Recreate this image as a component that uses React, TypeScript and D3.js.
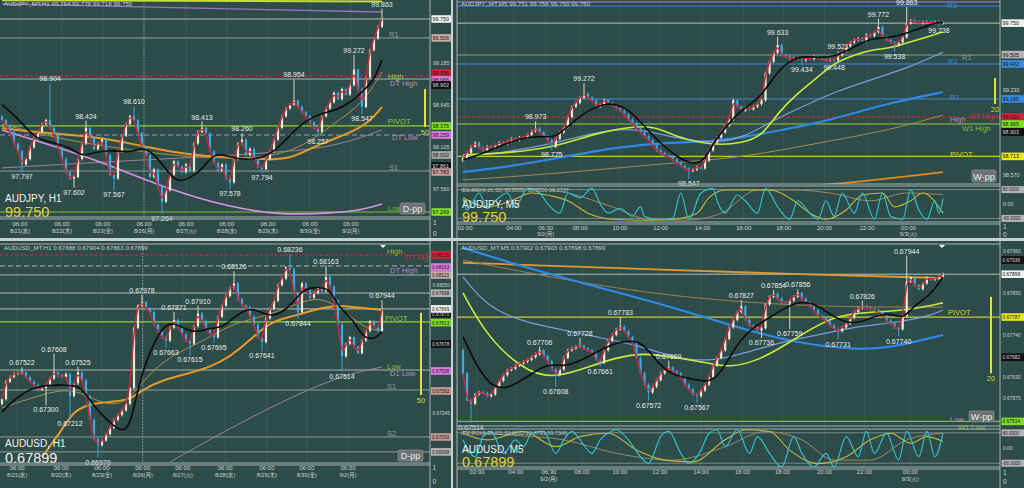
import React from 'react';
import * as d3 from 'd3';

type Pt = [number, number];

// ---------- AUDJPY H1 (top left) ----------
const tlCloses = [
  98.45, 98.38, 98.30, 98.15, 98.05, 97.88, 97.95, 98.10, 98.22, 98.30,
  98.40, 98.45, 98.35, 98.28, 98.10, 97.95, 97.78, 97.70, 97.72, 97.95,
  98.15, 98.35, 98.22, 98.08, 98.15, 98.20, 98.00, 97.75, 97.70, 98.05,
  98.25, 98.40, 98.50, 98.45, 98.28, 98.10, 98.00, 97.72, 97.82, 97.60,
  97.40, 97.55, 97.75, 97.92, 97.85, 97.78, 97.88, 97.80, 98.15, 98.30,
  98.35, 98.28, 98.05, 97.90, 97.80, 97.88, 97.70, 97.65, 97.95, 98.15,
  98.20, 98.00, 98.08, 97.95, 97.85, 97.82, 97.95, 98.05, 98.20, 98.35,
  98.50, 98.60, 98.65, 98.70, 98.62, 98.55, 98.50, 98.42, 98.35, 98.30,
  98.50, 98.60, 98.68, 98.80, 98.72, 98.85, 98.78, 98.90, 99.10, 98.85,
  98.62, 99.00, 99.35, 99.50, 99.65, 99.75,
];
const tlHighs: Pt[] = [[12, 98.904], [21, 98.424], [33, 98.610], [50, 98.413], [60, 98.260], [73, 98.954], [88, 99.272], [95, 99.863]];
const tlLows: Pt[] = [[5, 97.797], [18, 97.602], [28, 97.567], [40, 97.264], [57, 97.578], [65, 97.794], [79, 98.257], [90, 98.547]];
const tlBlack: Pt[] = [[0, 98.645], [4, 98.478], [8, 98.220], [12, 98.169], [17, 98.105], [20, 97.976], [23, 98.040], [28, 98.066], [32, 98.028], [35, 98.105], [38, 98.028], [42, 97.745], [44, 97.655], [47, 97.706], [50, 97.809], [53, 98.040], [57, 97.976], [61, 97.938], [65, 97.963], [68, 98.040], [72, 98.259], [76, 98.452], [80, 98.542], [84, 98.580], [88, 98.709], [91, 98.863], [93, 98.966], [95, 99.223]];
const tlOrange: Pt[] = [[0, 98.349], [8, 98.297], [25, 98.233], [37, 98.092], [47, 98.002], [58, 97.963], [69, 97.938], [73, 97.976], [80, 98.156], [87, 98.284], [92, 98.426], [95, 98.619]];
const tlOlive: Pt[] = [[0, 98.40], [15, 98.20], [30, 98.08], [45, 97.98], [60, 97.95], [70, 98.00], [78, 98.20], [84, 98.45], [90, 98.65], [95, 99.07]];
const tlPink: Pt[] = [[0, 98.323], [12, 98.130], [25, 97.912], [42, 97.552], [57, 97.333], [69, 97.231], [83, 97.256], [90, 97.295], [95, 97.372]];
const tlMauve: Pt[] = [[0, 97.835], [25, 97.912], [50, 97.976], [70, 98.040], [83, 98.105], [95, 98.323]];
const tlPurple: Pt[] = [[0, 99.943], [95, 99.840]];
const tlLime: Pt[] = [[0, 99.990], [95, 99.975]];
const tlLevelPrices = [99.750, 99.506, 99.017, 98.979, 98.375, 98.259, 97.796, 97.269];
const tlTextPrices = [99.557, 99.017, 98.927, 98.426, 98.233, 97.835, 97.308];
const tlTextNames = ['R1', 'High', 'DT High', 'PIVOT', 'DT Low', 'S1', 'Low'];
const tlTicks = [99.185, 98.645, 98.105, 97.560];
const tlBoxPrices = [99.750, 99.506, 99.056, 98.966, 98.902, 98.375, 98.259, 98.002, 97.861, 97.783, 97.269];
const tlTimeIdx = [4.5, 15, 25.2, 35.5, 46, 56.2, 66.5, 77, 87.2];
const tlBar: Pt = [98.850, 98.362];

// ---------- AUDJPY M5 (top right) ----------
const trCloses = [
  98.70, 98.74, 98.79, 98.82, 98.78, 98.76, 98.79, 98.78, 98.80, 98.82,
  98.81, 98.83, 98.85, 98.84, 98.86, 98.86, 98.88, 98.91, 98.93, 98.90,
  98.87, 98.84, 98.79, 98.85, 98.90, 98.94, 99.02, 99.10, 99.13, 99.17,
  99.20, 99.17, 99.15, 99.10, 99.12, 99.15, 99.13, 99.11, 99.09, 99.07,
  99.04, 99.00, 98.97, 98.93, 98.90, 98.87, 98.84, 98.80, 98.76, 98.74,
  98.72, 98.71, 98.69, 98.66, 98.64, 98.62, 98.60, 98.61, 98.63, 98.62,
  98.68, 98.76, 98.82, 98.86, 98.90, 98.95, 99.00, 99.15, 99.10, 99.07,
  99.09, 99.08, 99.10, 99.12, 99.15, 99.36, 99.45, 99.52, 99.58, 99.50,
  99.49, 99.47, 99.48, 99.47, 99.46, 99.48, 99.47, 99.49, 99.48, 99.47,
  99.46, 99.47, 99.46, 99.50, 99.53, 99.57, 99.60, 99.62, 99.63, 99.61,
  99.66, 99.65, 99.68, 99.72, 99.64, 99.62, 99.60, 99.58, 99.60, 99.64,
  99.75, 99.77, 99.76, 99.75, 99.76, 99.76, 99.75, 99.76, 99.75, 99.75,
];
const trHighs: Pt[] = [[18, 98.973], [30, 99.272], [78, 99.633], [93, 99.521], [103, 99.772], [110, 99.863]];
const trLows: Pt[] = [[22, 98.775], [56, 98.547], [84, 99.434], [92, 99.448], [107, 99.538], [118, 99.738]];
const trBlack: Pt[] = [[0, 98.685], [6, 98.747], [15, 98.872], [21, 98.864], [23, 98.864], [27, 98.973], [31, 99.074], [36, 99.136], [40, 99.097], [43, 99.019], [48, 98.841], [53, 98.708], [57, 98.646], [60, 98.685], [62, 98.817], [66, 98.973], [69, 99.074], [74, 99.175], [78, 99.385], [83, 99.502], [88, 99.479], [92, 99.487], [97, 99.564], [101, 99.634], [106, 99.634], [110, 99.673], [115, 99.728], [118, 99.759], [119, 99.751]];
const trLime: Pt[] = [[0, 98.724], [11, 98.739], [23, 98.786], [33, 98.895], [43, 98.950], [48, 98.942], [53, 98.864], [59, 98.817], [64, 98.802], [69, 98.817], [74, 98.864], [78, 99.051], [83, 99.206], [88, 99.331], [92, 99.440], [97, 99.502], [101, 99.541], [106, 99.557], [110, 99.596], [115, 99.642], [119, 99.681]];
const trSky: Pt[] = [[0, 98.708], [11, 98.747], [23, 98.817], [32, 98.895], [41, 98.934], [48, 98.895], [55, 98.841], [63, 98.817], [70, 98.864], [77, 98.996], [84, 99.097], [92, 99.214], [101, 99.307], [111, 99.409], [119, 99.525]];
const trBlue: Pt[] = [[0, 98.592], [11, 98.631], [25, 98.708], [38, 98.786], [52, 98.825], [61, 98.825], [70, 98.864], [79, 98.918], [88, 98.973], [97, 99.051], [106, 99.129], [119, 99.214]];
const trTan: Pt[] = [[0, 98.529], [25, 98.584], [52, 98.662], [70, 98.708], [88, 98.817], [106, 98.918], [119, 99.035]];
const trOrange: Pt[] = [[88, 98.49], [97, 98.51], [119, 98.59]];
const trCyan: Pt[] = [[0, 30], [1, -33], [4, 61], [6, -25], [8, 18], [11, 61], [13, -16], [16, 87], [19, 61], [21, 1], [24, -51], [26, 61], [29, 35], [32, 87], [34, 1], [36, -51], [39, -25], [42, -68], [44, -16], [45, -68], [48, -85], [52, -80], [54, 61], [56, -85], [59, 61], [62, 87], [63, 18], [65, -51], [68, 50], [70, 18], [73, -51], [75, 87], [78, -16], [81, -85], [83, 18], [86, -51], [88, -85], [90, 18], [92, -68], [94, 61], [97, -51], [99, 61], [102, -85], [104, 61], [106, -68], [109, -85], [111, 80], [113, -33], [115, -85], [117, 18], [118, -51], [119, 30]];
const trYellow: Pt[] = [[0, 35], [6, -16], [12, 18], [17, 61], [22, 44], [26, 18], [31, -51], [37, -85], [46, -90], [52, -85], [58, -51], [61, 35], [65, 78], [71, 78], [76, 78], [82, 18], [86, -51], [90, -85], [95, -33], [99, 50], [104, 61], [107, -16], [111, 18], [114, 61], [119, -51]];
const trTanOsc: Pt[] = [[0, 70], [16, 87], [26, 61], [37, -16], [46, -85], [55, -90], [64, -51], [73, 78], [82, 78], [91, 61], [101, 18], [110, 61], [119, 52]];
const trLevelPrices = [99.915, 99.883, 99.750, 99.502, 99.432, 99.160, 99.020, 98.965, 98.713];
const trTextPrices = [99.890, 99.480, 99.455, 99.170, 99.000, 99.020, 98.930, 98.730];
const trTextNames = ['R3', 'R1', 'R2', 'R1', 'High', 'DT High', 'W1 High', 'PIVOT'];
const trTicks = [99.720, 99.555, 99.395, 99.230, 99.065, 98.900, 98.735, 98.570];
const trBoxPrices = [99.750, 99.505, 99.432, 99.160, 99.020, 98.965, 98.903, 98.713];
const trTimeIdx = [0.5, 12.6, 20.5, 29, 38.9, 49, 59.4, 69.6, 79.5, 89.6, 100.2, 110.4];
const trBar: Pt = [99.323, 99.121];

// ---------- AUDUSD H1 (bottom left) ----------
const blCloses = [
  0.67330, 0.67440, 0.67470, 0.67490, 0.67495, 0.67500, 0.67470, 0.67440, 0.67420, 0.67390,
  0.67400, 0.67420, 0.67460, 0.67500, 0.67480, 0.67470, 0.67490, 0.67350, 0.67430, 0.67500,
  0.67450, 0.67350, 0.67200, 0.67080, 0.67040, 0.67070, 0.67110, 0.67150, 0.67200, 0.67230,
  0.67260, 0.67300, 0.67400, 0.67780, 0.67920, 0.67940, 0.67900, 0.67880, 0.67800, 0.67760,
  0.67720, 0.67700, 0.67780, 0.67830, 0.67780, 0.67740, 0.67700, 0.67680, 0.67790, 0.67870,
  0.67820, 0.67770, 0.67740, 0.67720, 0.67850, 0.67920, 0.67980, 0.68030, 0.68060, 0.67960,
  0.67920, 0.67910, 0.67850, 0.67800, 0.67720, 0.67690, 0.67840, 0.67900, 0.67950, 0.68050,
  0.68090, 0.68160, 0.68150, 0.68000, 0.67880, 0.68060, 0.68020, 0.67970, 0.68000, 0.68030,
  0.68010, 0.68100, 0.68040, 0.67950, 0.67800, 0.67600, 0.67680, 0.67720, 0.67660, 0.67620,
  0.67700, 0.67760, 0.67820, 0.67790, 0.67760, 0.67899,
];
const blHighs: Pt[] = [[5, 0.67522], [13, 0.67608], [19, 0.67525], [35, 0.67978], [43, 0.67871], [49, 0.67910], [58, 0.68126], [72, 0.68236], [81, 0.68163], [95, 0.67944]];
const blLows: Pt[] = [[11, 0.67300], [17, 0.67212], [24, 0.66970], [41, 0.67663], [47, 0.67615], [53, 0.67695], [65, 0.67641], [74, 0.67844], [85, 0.67514]];
const blBlack: Pt[] = [[0, 0.67250], [3, 0.67326], [8, 0.67420], [17, 0.67420], [20, 0.67407], [23, 0.67281], [27, 0.67180], [30, 0.67124], [32, 0.67155], [34, 0.67407], [37, 0.67640], [41, 0.67829], [45, 0.67785], [48, 0.67747], [52, 0.67779], [55, 0.67779], [58, 0.67848], [62, 0.67911], [65, 0.67873], [68, 0.67848], [72, 0.67911], [75, 0.68018], [78, 0.68037], [82, 0.68031], [84, 0.67911], [88, 0.67829], [90, 0.67722], [93, 0.67703], [95, 0.67754]];
const blOrange: Pt[] = [[10, 0.66966], [15, 0.67136], [18, 0.67263], [23, 0.67306], [27, 0.67313], [32, 0.67325], [35, 0.67388], [40, 0.67451], [47, 0.67495], [52, 0.67533], [57, 0.67596], [62, 0.67703], [67, 0.67817], [72, 0.67848], [78, 0.67892], [83, 0.67924], [88, 0.67911], [95, 0.67892]];
const blOlive: Pt[] = [[0, 0.67275], [8, 0.67344], [17, 0.67407], [23, 0.67325], [29, 0.67281], [33, 0.67369], [37, 0.67495], [42, 0.67596], [47, 0.67659], [52, 0.67722], [58, 0.67810], [65, 0.67848], [72, 0.67911], [78, 0.67974], [83, 0.67936], [88, 0.67829], [92, 0.67766], [95, 0.67766]];
const blMauve: Pt[] = [[42, 0.66935], [62, 0.67218], [83, 0.67470], [95, 0.67533]];
const blLevelPrices = [0.68239, 0.68170, 0.68113, 0.67999, 0.67899, 0.67817, 0.67514, 0.67388, 0.67092, 0.66998];
const blTextPrices = [0.68258, 0.68226, 0.68144, 0.67836, 0.67533, 0.67489, 0.67407, 0.67111];
const blTextNames = ['High', 'DT High', 'DT High', 'PIVOT', 'Low', 'D1 Low', 'S1', 'S2'];
const blTicks = [0.68180, 0.68050, 0.67920, 0.67790, 0.67660, 0.67530, 0.67400, 0.67245, 0.67115, 0.66985];
const blBoxPrices = [0.68239, 0.68163, 0.68113, 0.67998, 0.67870, 0.67899, 0.67813, 0.67678, 0.67508, 0.67382, 0.67092, 0.66998];
const blTimeIdx = [3.8, 14.8, 25, 35.2, 45.2, 55.8, 66.2, 76.2, 86.5];
const blBar: Pt = [0.67874, 0.67357];

// ---------- AUDUSD M5 (bottom right) ----------
const brCloses = [
  0.67640, 0.67570, 0.67560, 0.67585, 0.67590, 0.67588, 0.67580, 0.67585, 0.67605, 0.67620,
  0.67635, 0.67648, 0.67652, 0.67660, 0.67665, 0.67670, 0.67675, 0.67682, 0.67690, 0.67700,
  0.67685, 0.67672, 0.67650, 0.67635, 0.67650, 0.67680, 0.67700, 0.67705, 0.67710, 0.67712,
  0.67705, 0.67700, 0.67695, 0.67675, 0.67668, 0.67700, 0.67725, 0.67740, 0.67755, 0.67762,
  0.67750, 0.67735, 0.67720, 0.67680, 0.67640, 0.67610, 0.67590, 0.67605, 0.67622, 0.67640,
  0.67650, 0.67655, 0.67645, 0.67640, 0.67630, 0.67610, 0.67598, 0.67585, 0.67580, 0.67595,
  0.67610, 0.67630, 0.67660, 0.67680, 0.67700, 0.67730, 0.67760, 0.67780, 0.67800, 0.67815,
  0.67780, 0.67765, 0.67760, 0.67752, 0.67758, 0.67820, 0.67840, 0.67848, 0.67835, 0.67825,
  0.67822, 0.67830, 0.67840, 0.67850, 0.67835, 0.67825, 0.67815, 0.67805, 0.67790, 0.67785,
  0.67775, 0.67765, 0.67755, 0.67750, 0.67760, 0.67770, 0.67785, 0.67800, 0.67810, 0.67815,
  0.67810, 0.67808, 0.67805, 0.67800, 0.67790, 0.67778, 0.67770, 0.67760, 0.67755, 0.67790,
  0.67880, 0.67890, 0.67870, 0.67860, 0.67875, 0.67890, 0.67885, 0.67888, 0.67892, 0.67899,
];
const brHighs: Pt[] = [[19, 0.67706], [29, 0.67728], [39, 0.67783], [51, 0.67669], [69, 0.67827], [77, 0.67854], [83, 0.67856], [99, 0.67826], [110, 0.67944]];
const brLows: Pt[] = [[2, 0.67514], [23, 0.67608], [34, 0.67661], [46, 0.67572], [58, 0.67567], [74, 0.67736], [81, 0.67759], [93, 0.67731], [108, 0.67740]];
const brBlack: Pt[] = [[0, 0.67735], [7, 0.67578], [15, 0.67622], [21, 0.67669], [25, 0.67654], [31, 0.67682], [36, 0.67714], [44, 0.67735], [48, 0.67667], [52, 0.67635], [56, 0.67627], [61, 0.67614], [64, 0.67640], [68, 0.67719], [72, 0.67761], [77, 0.67792], [83, 0.67832], [88, 0.67819], [92, 0.67785], [97, 0.67766], [101, 0.67785], [106, 0.67800], [109, 0.67779], [112, 0.67819], [116, 0.67845], [119, 0.67892]];
const brLime: Pt[] = [[0, 0.67850], [6, 0.67735], [15, 0.67648], [22, 0.67627], [29, 0.67648], [38, 0.67682], [45, 0.67693], [52, 0.67682], [61, 0.67667], [66, 0.67654], [74, 0.67675], [83, 0.67735], [92, 0.67792], [101, 0.67800], [111, 0.67805], [119, 0.67824]];
const brSky: Pt[] = [[0, 0.67892], [6, 0.67813], [15, 0.67774], [25, 0.67753], [33, 0.67735], [43, 0.67714], [52, 0.67682], [61, 0.67669], [70, 0.67693], [79, 0.67722], [88, 0.67740], [97, 0.67761], [106, 0.67771], [115, 0.67787], [119, 0.67805]];
const brBlue: Pt[] = [[0, 0.67968], [15, 0.67918], [33, 0.67866], [52, 0.67813], [70, 0.67753], [83, 0.67719], [97, 0.67701], [106, 0.67706], [119, 0.67740]];
const brOrange: Pt[] = [[0, 0.67929], [52, 0.67910], [88, 0.67897], [119, 0.67889]];
const brTan: Pt[] = [[0, 0.67936], [25, 0.67884], [52, 0.67840], [79, 0.67819], [97, 0.67813], [119, 0.67813]];
const brCyan: Pt[] = [[0, 43], [3, -46], [5, 60], [7, 87], [10, -28], [13, 43], [15, 7], [17, 78], [20, 87], [23, -28], [25, 43], [27, 87], [29, 43], [32, -28], [34, 43], [36, 78], [38, 96], [41, 43], [44, -46], [46, -82], [49, 60], [51, 87], [54, -28], [56, -82], [59, -11], [61, 78], [63, 96], [65, 7], [68, 96], [71, -28], [73, 60], [76, -28], [79, -100], [82, 60], [84, -28], [87, -100], [90, -28], [92, -100], [95, 60], [98, -46], [100, 87], [102, -28], [105, 78], [108, -64], [110, 87], [113, -46], [115, 87], [117, -46], [119, 78]];
const brYellow: Pt[] = [[0, 78], [6, 43], [15, 87], [23, 7], [29, 60], [36, 78], [43, -11], [50, -64], [57, -73], [65, 43], [70, 96], [76, 87], [81, -11], [88, -82], [95, -46], [101, 43], [106, 78], [111, 25], [115, 60], [119, 34]];
const brTanOsc: Pt[] = [[0, 87], [11, 69], [25, 43], [38, -28], [52, -64], [65, 7], [75, 87], [84, 43], [92, -64], [101, -64], [110, 43], [119, 78]];
const brLevelPrices = [0.67899, 0.67787, 0.67514];
const brTextPrices = [0.67798, 0.67520, 0.67498];
const brTextNames = ['PIVOT', 'Low', 'W1 Low'];
const brTicks = [0.67960, 0.67905, 0.67850, 0.67795, 0.67740, 0.67685, 0.67630, 0.67575, 0.67520];
const brBoxPrices = [0.67936, 0.67899, 0.67787, 0.67682, 0.67514];
const brTimeIdx = [3.5, 13.1, 21.3, 29.5, 38.9, 48.8, 59, 69.3, 79.2, 89.6, 99.5, 110.9];
const brBar: Pt = [0.67840, 0.67640];

const h1Times = ['06:00', '06:00', '06:00', '06:00', '06:00', '06:00', '06:00', '06:00', '06:00'];
const h1Dates = ['8/21(水)', '8/22(木)', '8/23(金)', '8/26(月)', '8/27(火)', '8/28(水)', '8/29(木)', '8/30(金)', '9/2(月)'];
const m5Times = ['02:00', '04:00', '06:30', '08:00', '10:00', '12:00', '14:00', '16:00', '18:00', '20:00', '22:00', '00:00'];
const m5Dates = ['', '', '9/2(月)', '', '', '', '', '', '', '', '', '9/3(火)'];
const oscBoxValues = [80, -80];

const FONT = '"Liberation Sans", Arial, "Noto Sans CJK JP", sans-serif';
const BG = '#2d4b48';
const GRID = '#3d5b58';
const FRAME = '#a6b3b1';
const UP = '#ece8d2';
const DOWN = '#38ace6';
const AXIS_TXT = '#cdd5d4';
const RED = '#c42a3e';

interface Line { pts: Pt[]; color: string; width: number; over?: boolean }
interface Lvl { p: number; color: string; width?: number; dash?: string }
interface Txt { p: number; t: string; color: string; x: number }
interface Box { p: number; fill: string }

interface Spec {
  id: string;
  px: number; py: number; pw: number; ph: number;
  x0: number; x1: number; y0: number; y1: number;
  cx0: number; cx1: number; axisX: number; axisFont: number;
  timeY: [number, number]; oneZero: [number, number];
  domain: [number, number]; dec: number; open0: number;
  closes: number[]; highs: Pt[]; lows: Pt[];
  lines: Line[]; levels: Lvl[]; texts: Txt[];
  ticks: number[]; boxes: Box[];
  timeIdx: number[]; times: string[]; dates: string[]; sepIdx?: number;
  header: string; symbol: string; price: string; priceColor: string; symY: number; priceY: number;
  pp: { t: string; x: number; y: number; w: number; h: number };
  bar: { x: number; range: Pt; label: string };
  osc?: { y0: number; y1: number; header: string; lines: Line[] };
  hLines: number[]; vLines: number[]; marker?: number;
}

type LvlStyle = { color: string; width?: number; dash?: string };
const lv = (ps: number[], st: LvlStyle[]): Lvl[] => ps.map((p, i) => ({ p, ...st[i] }));
const tx = (ps: number[], names: string[], cols: string[], xs: number[]): Txt[] =>
  ps.map((p, i) => ({ p, t: names[i], color: cols[i], x: xs[i] }));
const bx = (ps: number[], fills: string[]): Box[] => ps.map((p, i) => ({ p, fill: fills[i] }));

const GREEN = '#8ccf3a';
const LAV = '#b98ad0';
const GRAYL = '#8e9d9b';
const BLUE = '#3a8ae0';
const YEL = '#d4d438';

function Panel({ s }: { s: Spec }) {
  const n = s.closes.length;
  const x = d3.scaleLinear().domain([0, n - 1]).range([s.cx0, s.cx1]);
  const y = d3.scaleLinear().domain(s.domain).range([s.y1, s.y0]);
  const bw = ((s.cx1 - s.cx0) / (n - 1)) * 0.55;
  const hi = new Map(s.highs);
  const lo = new Map(s.lows);
  const maLine = d3.line<Pt>().x(d => x(d[0])).y(d => y(d[1])).curve(d3.curveBasis);
  const fast = d3.line<number>().x((_, i) => x(i)).y(d => y(d)).curve(d3.curveBasis);
  const yo = s.osc ? d3.scaleLinear().domain([-100, 100]).range([s.osc.y1, s.osc.y0]) : null;
  const oscLine = yo ? d3.line<Pt>().x(d => x(d[0])).y(d => yo(d[1])).curve(d3.curveMonotoneX) : null;
  const gridBottom = s.osc ? s.osc.y1 : s.y1;
  // tick labels that would sit under a coloured price box are hidden, as the terminal does
  const freeTicks = s.ticks.filter(p => {
    const v = y(p);
    return v > s.y0 + 3 && v < s.y1 - 3 && s.boxes.every(b => Math.abs(y(b.p) - v) > 7.5);
  });
  const af = s.axisFont;

  const drawLines = (over: boolean) =>
    s.lines.filter(l => !!l.over === over).map((l, k) => (
      <path key={k} d={maLine(l.pts) || ''} fill="none" stroke={l.color} strokeWidth={l.width} />
    ));

  return (
    <g fontFamily={FONT}>
      <defs>
        <clipPath id={`${s.id}-a`}><rect x={s.px} y={s.py} width={s.pw} height={s.ph} /></clipPath>
        <clipPath id={`${s.id}-p`}><rect x={s.x0} y={s.y0} width={s.x1 - s.x0} height={s.y1 - s.y0} /></clipPath>
        {s.osc && <clipPath id={`${s.id}-o`}><rect x={s.x0} y={s.osc.y0} width={s.x1 - s.x0} height={s.osc.y1 - s.osc.y0} /></clipPath>}
      </defs>
      <g clipPath={`url(#${s.id}-a)`}>
        <rect x={s.px} y={s.py} width={s.pw} height={s.ph} fill={BG} />

        {/* time grid */}
        {s.timeIdx.map((t, k) => (
          <line key={k} x1={x(t)} x2={x(t)} y1={s.y0} y2={gridBottom} stroke={GRID} strokeWidth={0.8} />
        ))}
        {s.sepIdx !== undefined && (
          <line x1={x(s.sepIdx)} x2={x(s.sepIdx)} y1={s.y0} y2={s.y1} stroke="#9aabaa" strokeWidth={0.8} strokeDasharray="1.5,1.5" />
        )}

        <g clipPath={`url(#${s.id}-p)`}>
          {s.levels.map((l, k) => (
            <line key={k} x1={s.x0} x2={s.x1} y1={y(l.p)} y2={y(l.p)} stroke={l.color}
              strokeWidth={l.width ?? 1} strokeDasharray={l.dash} />
          ))}
          {drawLines(false)}
          {s.closes.map((c, i) => {
            const o = i ? s.closes[i - 1] : s.open0;
            const col = c >= o ? UP : DOWN;
            const h = hi.get(i) ?? Math.max(o, c);
            const l = lo.get(i) ?? Math.min(o, c);
            const yt = y(Math.max(o, c));
            const yb = y(Math.min(o, c));
            return (
              <g key={i}>
                <line x1={x(i)} x2={x(i)} y1={y(h) - 1.5} y2={y(l) + 1.5} stroke={col} strokeWidth={0.9} />
                <rect x={x(i) - bw / 2} y={yt} width={bw} height={Math.max(1, yb - yt)} fill={col} />
              </g>
            );
          })}
          <path d={fast(s.closes) || ''} fill="none" stroke={RED} strokeWidth={1.5} />
          {drawLines(true)}
        </g>

        {/* extreme price labels */}
        {s.highs.map(([i, p]) => (
          <text key={`h${i}`} x={x(i)} y={y(p) - 3.5} fontSize={7} fill="#e6eeee" textAnchor="middle">{p.toFixed(s.dec)}</text>
        ))}
        {s.lows.map(([i, p]) => (
          <text key={`l${i}`} x={x(i)} y={y(p) + 8.5} fontSize={7} fill="#e6eeee" textAnchor="middle">{p.toFixed(s.dec)}</text>
        ))}

        {/* level names */}
        {s.texts.map((t, k) => (
          <text key={k} x={t.x} y={y(t.p) + 2.5} fontSize={7.5} fill={t.color}>{t.t}</text>
        ))}

        {/* pivot-point box */}
        <rect x={s.pp.x} y={s.pp.y} width={s.pp.w} height={s.pp.h} rx={1.5} fill="#6d7172" stroke="#a0a4a4" strokeWidth={0.5} />
        <text x={s.pp.x + s.pp.w / 2} y={s.pp.y + s.pp.h - 2.5} fontSize={9} fill="#ececec" textAnchor="middle">{s.pp.t}</text>

        {/* range bar */}
        <line x1={s.bar.x} x2={s.bar.x} y1={y(s.bar.range[0])} y2={y(s.bar.range[1])} stroke="#e2e232" strokeWidth={2} />
        <text x={s.bar.x} y={y(s.bar.range[1]) + 8} fontSize={7.5} fill="#d8d830" textAnchor="middle">{s.bar.label}</text>

        {/* oscillator */}
        {s.osc && yo && oscLine && (
          <g>
            {[80, -80].map(v => (
              <line key={v} x1={s.x0} x2={s.x1} y1={yo(v)} y2={yo(v)} stroke="#8d9c9a" strokeWidth={0.8} />
            ))}
            <g clipPath={`url(#${s.id}-o)`}>
              {s.osc.lines.map((l, k) => (
                <path key={k} d={oscLine(l.pts) || ''} fill="none" stroke={l.color} strokeWidth={l.width} />
              ))}
            </g>
            <text x={s.x0 + 4} y={s.osc.y0 + 6} fontSize={5.5} fill="#b8c2c0">{s.osc.header}</text>
            <text x={s.axisX} y={yo(0) + 2} fontSize={af} fill={AXIS_TXT}>0.00</text>
            {oscBoxValues.map(v => (
              <g key={v}>
                <rect x={s.axisX - 1.5} y={yo(v) - 3.5} width={24} height={7} fill="#b4b4b4" />
                <text x={s.axisX - 0.5} y={yo(v) + 1.8} fontSize={4.6} fill="#222">{v.toFixed(4)}</text>
              </g>
            ))}
          </g>
        )}

        {/* symbol and price */}
        <text x={s.x0 + 5} y={s.symY} fontSize={10} fill="#f2f2f2">{s.symbol}</text>
        <text x={s.x0 + 5} y={s.priceY} fontSize={14.5} fill={s.priceColor}>{s.price}</text>
        <text x={s.x0 + 4} y={s.y0 + 6} fontSize={6.2} fill="#c8d0d0">{s.header}</text>

        {/* frame */}
        {s.hLines.map((v, k) => (
          <line key={k} x1={s.x0} x2={s.x1} y1={v} y2={v} stroke={FRAME} strokeWidth={1} />
        ))}
        {s.vLines.map((v, k) => (
          <line key={k} x1={v} x2={v} y1={s.py} y2={s.py + s.ph} stroke={FRAME} strokeWidth={1} />
        ))}
        {s.marker !== undefined && (
          <path d={`M${s.marker - 3},${s.y0 + 1}L${s.marker + 3},${s.y0 + 1}L${s.marker},${s.y0 + 4}Z`} fill="#f4f4f4" />
        )}

        {/* price axis */}
        {freeTicks.map(p => (
          <text key={p} x={s.axisX} y={y(p) + 2} fontSize={af} fill={AXIS_TXT}>{p.toFixed(s.dec)}</text>
        ))}
        {s.boxes.map((b, k) => (
          <g key={k}>
            <rect x={s.axisX - 1.5} y={y(b.p) - 3.8} width={24} height={7.6} fill={b.fill} />
            <text x={s.axisX - 0.5} y={y(b.p) + 2} fontSize={af} fill={b.fill === '#101010' ? '#d8d8d8' : '#151515'}>{b.p.toFixed(s.dec)}</text>
          </g>
        ))}
        <text x={s.axisX} y={s.oneZero[0]} fontSize={6.5} fill={AXIS_TXT}>1</text>
        <text x={s.axisX} y={s.oneZero[1]} fontSize={6.5} fill={AXIS_TXT}>0</text>

        {/* time axis */}
        {s.timeIdx.map((t, k) => (
          <g key={k}>
            <text x={x(t)} y={s.timeY[0]} fontSize={6} fill={AXIS_TXT} textAnchor="middle">{s.times[k]}</text>
            {s.dates[k] && (
              <text x={x(t)} y={s.timeY[1]} fontSize={5.6} fill={AXIS_TXT} textAnchor="middle">{s.dates[k]}</text>
            )}
          </g>
        ))}
      </g>
    </g>
  );
}

export default function App() {
  const tl: Spec = {
    id: 'tl', px: 0, py: 0, pw: 451, ph: 238,
    x0: 0, x1: 430, y0: 0, y1: 217, cx0: 2, cx1: 382, axisX: 433, axisFont: 5.4,
    timeY: [225.5, 233], oneZero: [225, 236], domain: [97.205, 99.994], dec: 3, open0: 98.50,
    closes: tlCloses, highs: tlHighs, lows: tlLows,
    lines: [
      { pts: tlLime, color: '#c8dc3c', width: 2 },
      { pts: tlPurple, color: '#a070c8', width: 1.3 },
      { pts: tlMauve, color: '#9a8494', width: 1 },
      { pts: tlPink, color: '#d890e8', width: 1.6 },
      { pts: tlOrange, color: '#e89a28', width: 2 },
      { pts: tlOlive, color: '#a8904c', width: 1 },
      { pts: tlBlack, color: '#0c0c0c', width: 1.6, over: true },
    ],
    levels: lv(tlLevelPrices, [
      { color: '#b5c2c0' }, { color: GRAYL }, { color: '#b8283a', width: 1.6, dash: '3,2' }, { color: '#a9b6b4' },
      { color: GREEN, width: 1.2 }, { color: '#9c9eb6', dash: '5,3' }, { color: GRAYL }, { color: '#7ec030', width: 1.2 },
    ]),
    texts: tx(tlTextPrices, tlTextNames, [GRAYL, '#9ccc3c', LAV, GREEN, LAV, GRAYL, '#7ec030'], [389, 388, 390, 388, 392, 389, 388]),
    ticks: tlTicks,
    boxes: bx(tlBoxPrices, ['#f0f0f0', '#c8aca4', '#d8203c', '#e07ae0', '#101010', '#7ee020', '#e07ae0', '#a8a8a8', '#101010', '#c49a94', '#7ee020']),
    timeIdx: tlTimeIdx, times: h1Times, dates: h1Dates, sepIdx: 35.5,
    header: 'AUDJPY_MT,H1  99.764 99.778 99.718 99.750',
    symbol: 'AUDJPY, H1', price: '99.750', priceColor: '#e6d22a', symY: 202, priceY: 216.5,
    pp: { t: 'D-pp', x: 400, y: 203, w: 25, h: 11 },
    bar: { x: 425, range: tlBar, label: '50' },
    hLines: [217, 219], vLines: [430],
  };

  const tr: Spec = {
    id: 'tr', px: 453, py: 0, pw: 571, ph: 238,
    x0: 457, x1: 1000, y0: 0, y1: 184, cx0: 463, cx1: 943, axisX: 1003, axisFont: 5.4,
    timeY: [229.5, 236], oneZero: [229, 237], domain: [98.498, 99.930], dec: 3, open0: 98.68,
    closes: trCloses, highs: trHighs, lows: trLows,
    lines: [
      { pts: trOrange, color: '#e08a20', width: 1.8 },
      { pts: trTan, color: '#a88a58', width: 1 },
      { pts: trBlue, color: '#2f8ae6', width: 2.2 },
      { pts: trSky, color: '#7c9ce0', width: 1.2 },
      { pts: trLime, color: '#c8ec3c', width: 1.6 },
      { pts: trBlack, color: '#0c0c0c', width: 1.6, over: true },
    ],
    levels: lv(trLevelPrices, [
      { color: '#9a6cc0', width: 1.2 }, { color: BLUE }, { color: '#b5c2c0' }, { color: GRAYL }, { color: BLUE },
      { color: BLUE }, { color: '#b8283a', width: 1.4, dash: '3,2' }, { color: '#a0c838' }, { color: '#c8c830', width: 1.2 },
    ]),
    texts: tx(trTextPrices, trTextNames, [BLUE, GRAYL, BLUE, BLUE, LAV, '#d02a40', '#80c040', YEL], [947, 962, 948, 950, 950, 970, 962, 950]),
    ticks: trTicks,
    boxes: bx(trBoxPrices, ['#f0f0f0', '#b4b4b4', BLUE, BLUE, '#d8203c', '#7ee020', '#101010', '#e8e820']),
    timeIdx: trTimeIdx, times: m5Times, dates: m5Dates,
    header: 'AUDJPY_MT,M5  99.751 99.756 99.750 99.750',
    symbol: 'AUDJPY, M5', price: '99.750', priceColor: '#e6d22a', symY: 207.5, priceY: 222,
    pp: { t: 'W-pp', x: 972, y: 170, w: 24, h: 12 },
    bar: { x: 995, range: trBar, label: '20' },
    osc: {
      y0: 186, y1: 222, header: 'IFX-RCI(9,26,52) 80.0000 -80.0000 29.2737',
      lines: [
        { pts: trTanOsc, color: '#a08860', width: 1 },
        { pts: trYellow, color: '#c8b838', width: 1.1 },
        { pts: trCyan, color: '#30c0d0', width: 1.2 },
      ],
    },
    hLines: [184, 186, 222, 224], vLines: [457, 1000],
  };

  const bl: Spec = {
    id: 'bl', px: 0, py: 241, pw: 451, ph: 247,
    x0: 0, x1: 430, y0: 244, y1: 463, cx0: 2, cx1: 382, axisX: 432.5, axisFont: 4.8,
    timeY: [470, 477], oneZero: [470, 484], domain: [0.66928, 0.68308], dec: 5, open0: 0.67300,
    closes: blCloses, highs: blHighs, lows: blLows,
    lines: [
      { pts: blMauve, color: '#9a8494', width: 1 },
      { pts: blOrange, color: '#e89a28', width: 2 },
      { pts: blOlive, color: '#a8904c', width: 1 },
      { pts: blBlack, color: '#0c0c0c', width: 1.6, over: true },
    ],
    levels: lv(blLevelPrices, [
      { color: '#b8283a', width: 1.6, dash: '3,2' }, { color: '#a9b6b4', dash: '5,3' }, { color: '#a9b6b4' }, { color: '#a9b6b4' },
      { color: '#b5c2c0' }, { color: GREEN, width: 1.2 }, { color: '#a9b6b4' }, { color: GRAYL }, { color: GRAYL }, { color: GRAYL },
    ]),
    texts: tx(blTextPrices, blTextNames, ['#7ec030', '#d02a40', LAV, GREEN, '#7ec030', LAV, GRAYL, GRAYL], [387, 405, 390, 385, 387, 390, 387, 387]),
    ticks: blTicks,
    boxes: bx(blBoxPrices, ['#d8203c', '#e07ae0', '#c8aca4', '#b4b4b4', '#101010', '#f0f0f0', '#7ee020', '#101010', '#e07ae0', '#c49a94', '#c49a94', '#b4b4b4']),
    timeIdx: blTimeIdx, times: h1Times, dates: h1Dates, sepIdx: 35.2,
    header: 'AUDUSD_MT,H1  0.67888 0.67904 0.67863 0.67899',
    symbol: 'AUDUSD, H1', price: '0.67899', priceColor: '#f2f2f2', symY: 447, priceY: 462.5,
    pp: { t: 'D-pp', x: 398, y: 450, w: 25, h: 11 },
    bar: { x: 421, range: blBar, label: '50' },
    hLines: [244, 463, 465], vLines: [430], marker: 383,
  };

  const br: Spec = {
    id: 'br', px: 453, py: 241, pw: 571, ph: 247,
    x0: 457, x1: 1000, y0: 244, y1: 426, cx0: 463, cx1: 943, axisX: 1003, axisFont: 4.9,
    timeY: [474, 480.5], oneZero: [475, 484], domain: [0.67502, 0.67978], dec: 5, open0: 0.67700,
    closes: brCloses, highs: brHighs, lows: brLows,
    lines: [
      { pts: brOrange, color: '#e09a30', width: 1.8 },
      { pts: brTan, color: '#a08050', width: 1 },
      { pts: brBlue, color: '#2f8ae6', width: 2.2 },
      { pts: brSky, color: '#7c9ce0', width: 1.2 },
      { pts: brLime, color: '#c8ec3c', width: 1.6 },
      { pts: brBlack, color: '#0c0c0c', width: 1.6, over: true },
    ],
    levels: lv(brLevelPrices, [{ color: '#b5c2c0' }, { color: '#c8cc38', width: 1.2 }, { color: '#7ec030', width: 1.2 }]),
    texts: tx(brTextPrices, brTextNames, [YEL, LAV, '#80c040'], [948, 950, 958]),
    ticks: brTicks,
    boxes: bx(brBoxPrices, ['#101010', '#f0f0f0', '#e8e820', '#101010', '#7ee020']),
    timeIdx: brTimeIdx, times: m5Times, dates: m5Dates,
    header: 'AUDUSD_MT,M5  0.67902 0.67903 0.67898 0.67899',
    symbol: 'AUDUSD, M5', price: '0.67899', priceColor: '#e6d22a', symY: 452.5, priceY: 467,
    pp: { t: 'W-pp', x: 969, y: 411, w: 25, h: 11 },
    bar: { x: 991, range: brBar, label: '20' },
    osc: {
      y0: 429, y1: 467, header: 'IFX-RCI(9,26,52) 59.8022 20.8791 59.7340',
      lines: [
        { pts: brTanOsc, color: '#a08860', width: 1 },
        { pts: brYellow, color: '#c8b838', width: 1.1 },
        { pts: brCyan, color: '#30c0d0', width: 1.2 },
      ],
    },
    hLines: [244, 426, 429, 467, 469], vLines: [457, 1000], marker: 942,
  };

  return (
    <div style={{ width: 1024, height: 488 }}>
      <style>{'html,body{margin:0;padding:0;background:#c9d1d0;}'}</style>
      <svg width={1024} height={488} style={{ display: 'block' }}>
        <rect width={1024} height={488} fill="#c9d1d0" />
        <Panel s={tl} />
        <Panel s={tr} />
        <Panel s={bl} />
        <Panel s={br} />
      </svg>
    </div>
  );
}
